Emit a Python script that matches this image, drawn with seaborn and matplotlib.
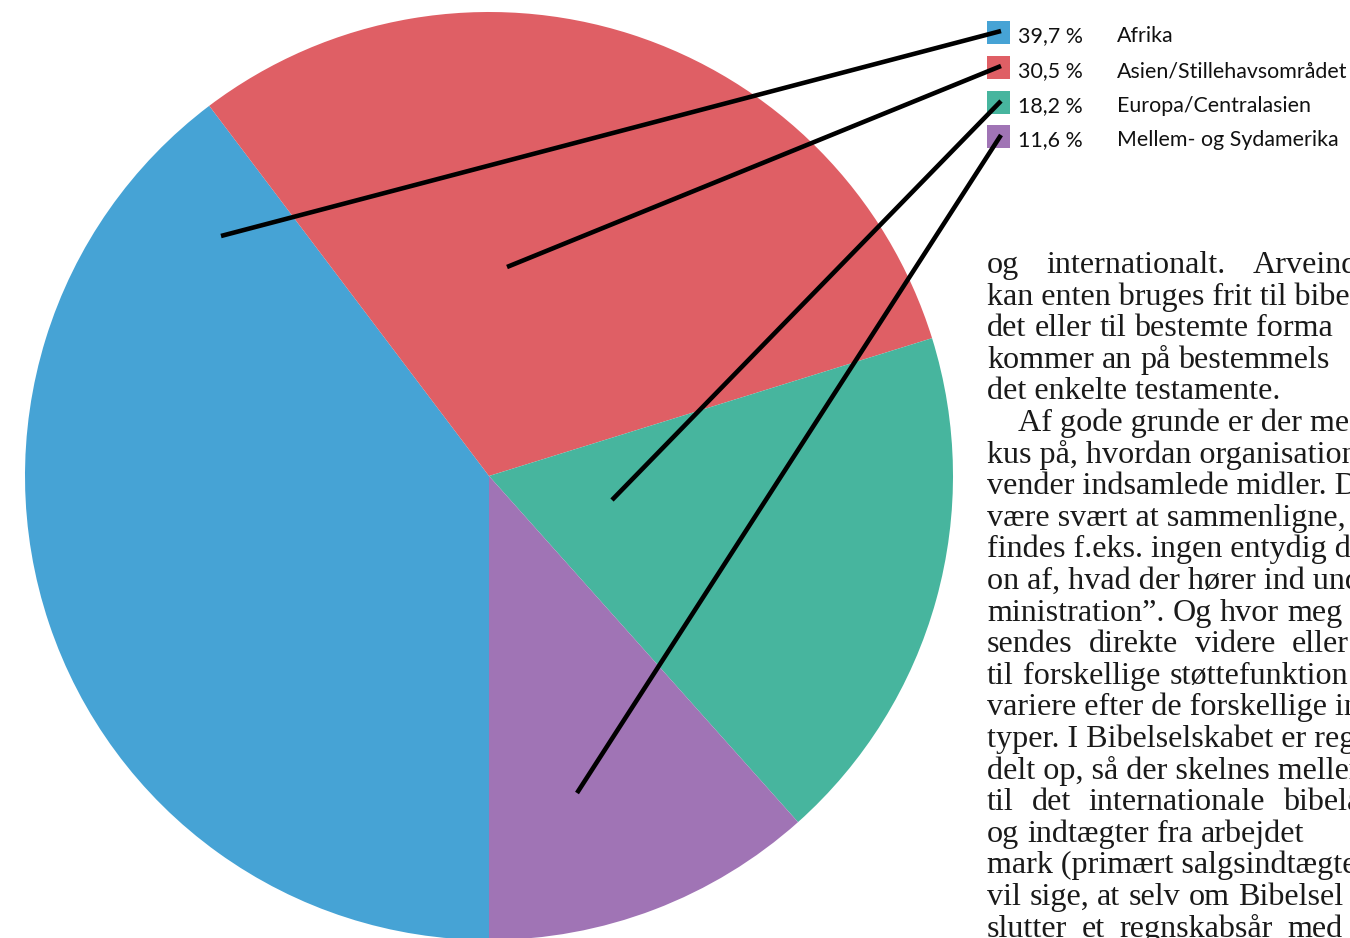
import matplotlib
matplotlib.use("Agg")
import matplotlib.pyplot as plt
import seaborn as sns
from matplotlib.patches import Rectangle

# --- DATA ---
regions = ["Afrika", "Asien/Stillehavsområdet", "Europa/Centralasien", "Mellem- og Sydamerika"]
shares = [39.7, 30.5, 18.2, 11.6]
colors = ["#46a3d5", "#df5f65", "#47b59e", "#a074b5"]

# where each leader line ends inside its slice (pixel coords)
leader_ends = [(221, 236), (507, 267), (612, 500), (577, 793)]

# body text column on the right (cut off at the page edge)
# second item: start of the last word for justified lines, None = normal spacing
body_lines = [
    ("og internationalt. Arveind", 1253),
    ("kan enten bruges frit til bibe", None),
    ("det eller til bestemte forma", 1243),
    ("kommer an på bestemmels", 1172),
    ("det enkelte testamente.", None),
    ("Af gode grunde er der me", None),
    ("kus på, hvordan organisation", None),
    ("vender indsamlede midler. D", None),
    ("være svært at sammenligne, i", None),
    ("findes f.eks. ingen entydig d", None),
    ("on af, hvad der hører ind und", None),
    ("ministration”. Og hvor meg", 1282),
    ("sendes direkte videre eller", 1292),
    ("til forskellige støttefunktion", 1170),
    ("variere efter de forskellige ind", None),
    ("typer. I Bibelselskabet er regn", None),
    ("delt op, så der skelnes mellem", None),
    ("til det internationale bibela", 1283),
    ("og indtægter fra arbejdet", 1177),
    ("mark (primært salgsindtægte", None),
    ("vil sige, at selv om Bibelsel", 1238),
    ("slutter et regnskabsår med", 1287),
]
indented = [5]

W, H = 1350, 938

sns.set_theme(style="white")
plt.rcParams["font.family"] = ["DejaVu Sans"]

fig = plt.figure(figsize=(W / 100, H / 100), dpi=100)
ax = fig.add_axes([0, 0, 1, 1])

# y axis is flipped (pixel coords), so startangle=90 points down on screen
# and counterclock=True runs clockwise on screen
ax.pie(shares, colors=colors, startangle=90, counterclock=True,
       center=(489, 476), radius=464, wedgeprops=dict(linewidth=0))
ax.set_xlim(0, W)
ax.set_ylim(H, 0)
ax.set_aspect("auto")
ax.axis("off")

renderer = fig.canvas.get_renderer()


def text_width(s, **kw):
    t = ax.text(0, 0, s, **kw)
    w = t.get_window_extent(renderer=renderer).width
    t.remove()
    return w


# --- LEGEND ---
leg_font = "Lato"
leg_size = 14 * 230 / text_width("Asien/Stillehavsområdet", family=leg_font, fontsize=14)
sq_tops = [21, 56, 91, 125]
for i, (name, val, col) in enumerate(zip(regions, shares, colors)):
    top = sq_tops[i]
    ax.add_patch(Rectangle((987, top), 23, 23, facecolor=col, edgecolor="none", zorder=3))
    pct = f"{val:.1f}".replace(".", ",") + " %"
    ax.text(1018, top + 21, pct, family=leg_font, fontsize=leg_size, color="#111111",
            va="baseline", ha="left")
    ax.text(1117, top + 21, name, family=leg_font, fontsize=leg_size, color="#111111",
            va="baseline", ha="left")
    ex, ey = leader_ends[i]
    ax.plot([1001, ex], [top + 10, ey], color="black", lw=3.3,
            solid_capstyle="butt", zorder=4)

# --- BODY TEXT ---
body_font = "Liberation Serif"
body_kw = dict(family=body_font, color="#1a1a1a", va="baseline", ha="left")
body_size = 16 * 293 / text_width("det enkelte testamente.", family=body_font, fontsize=16)
space = text_width("a a", family=body_font, fontsize=body_size) - \
    text_width("aa", family=body_font, fontsize=body_size)
for i, (line, last_x) in enumerate(body_lines):
    y = 273 + 31.6 * i
    x0 = 1018 if i in indented else 987
    if last_x is None:
        ax.text(x0, y, line, fontsize=body_size, **body_kw)
        continue
    # justified line: spread the words so the last one starts at last_x
    words = line.split(" ")
    widths = [text_width(w, family=body_font, fontsize=body_size) for w in words]
    gap = (last_x - x0 - sum(widths[:-1])) / (len(words) - 1)
    gap = max(gap, space)
    x = x0
    for w, wd in zip(words, widths):
        ax.text(x, y, w, fontsize=body_size, **body_kw)
        x += wd + gap

fig.savefig("out.png", dpi=100)
